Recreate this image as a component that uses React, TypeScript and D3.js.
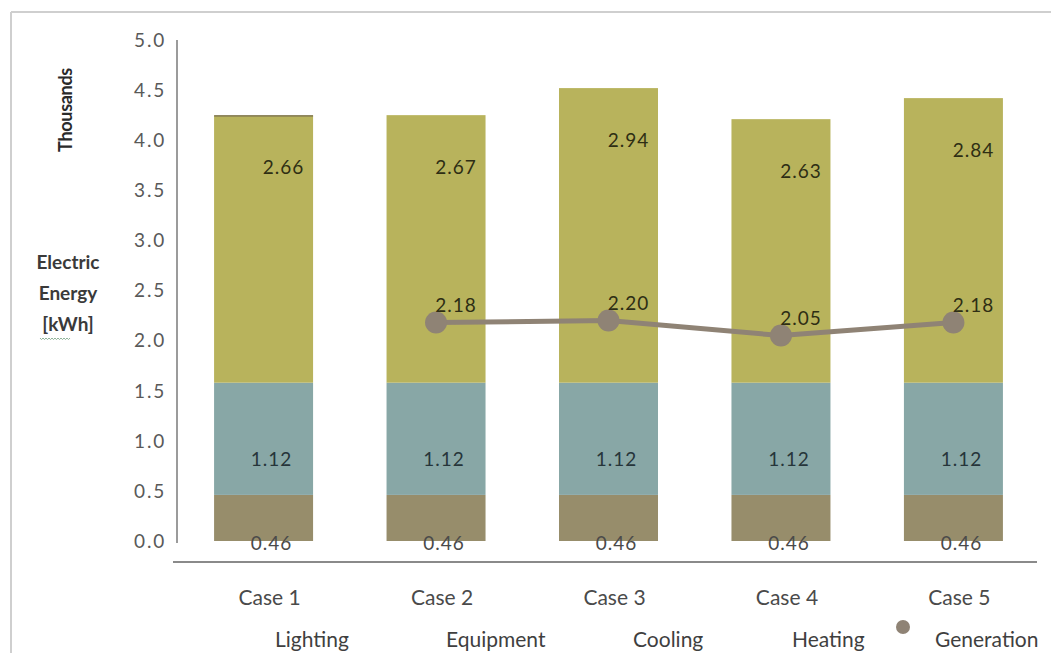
import React from "react";
import * as d3 from "d3";

const cases = ["Case 1", "Case 2", "Case 3", "Case 4", "Case 5"];
const lighting = [0.46, 0.46, 0.46, 0.46, 0.46];
const equipment = [1.12, 1.12, 1.12, 1.12, 1.12];
const cooling = [2.66, 2.67, 2.94, 2.63, 2.84];
const heating = [0.01, 0.0, 0.0, 0.0, 0.0];
const generation: (number | null)[] = [null, 2.18, 2.2, 2.05, 2.18];
const yTicks = [0, 0.5, 1, 1.5, 2, 2.5, 3, 3.5, 4, 4.5, 5];
const legendNames = ["Lighting", "Equipment", "Cooling", "Heating", "Generation"];

const C_LIGHT = "#978d6b";
const C_EQUIP = "#88a7a6";
const C_COOL = "#b8b35c";
const C_HEAT = "#7d7346";
const C_GEN = "#8f8375";
const FONT = "Lato, 'Open Sans', sans-serif";

export default function App() {
  const W = 1051, H = 653;
  const y = d3.scaleLinear().domain([0, 5]).range([541, 40]);
  const x = d3.scaleBand<string>().domain(cases).range([177, 1040]).paddingInner(0.426).paddingOuter(0.215);
  const bw = x.bandwidth();

  const rows = cases.map((c, i) => ({ c, lighting: lighting[i], equipment: equipment[i], cooling: cooling[i], heating: heating[i] }));
  const keys = ["lighting", "equipment", "cooling", "heating"];
  const colors: Record<string, string> = { lighting: C_LIGHT, equipment: C_EQUIP, cooling: C_COOL, heating: C_HEAT };
  const stack = d3.stack<any>().keys(keys)(rows);

  const genPts = cases
    .map((c, i) => ({ c, v: generation[i] }))
    .filter((d) => d.v !== null) as { c: string; v: number }[];
  const line = d3
    .line<{ c: string; v: number }>()
    .x((d) => (x(d.c) as number) + bw / 2)
    .y((d) => y(d.v));

  const cx = (c: string) => (x(c) as number) + bw / 2;
  const fmt = d3.format(".2f");

  // squiggle under kWh
  const sq: string[] = [];
  for (let i = 0; i <= 20; i++) {
    const px = 40 + i * 1.5;
    const py = 338 + (i % 2 === 0 ? 0 : 1.6);
    sq.push(`${i === 0 ? "M" : "L"}${px},${py}`);
  }

  const legendX = [275, 446, 633, 792, 935];

  return (
    <svg width={W} height={H} style={{ position: "absolute", left: 0, top: 0, background: "#fff" }} fontFamily={FONT}>
      {/* frame */}
      <line x1={11} y1={12} x2={W} y2={12} stroke="#cfcfcf" strokeWidth={2} />
      <line x1={11} y1={12} x2={11} y2={H} stroke="#cfcfcf" strokeWidth={2} />

      {/* y axis titles */}
      <text transform="translate(72,110) rotate(-90)" textAnchor="middle" fontSize={18} fontWeight={700} fill="#2a2a2a" letterSpacing={-0.3}>
        Thousands
      </text>
      <g fontSize={19} fontWeight={700} fill="#3a3a3a" textAnchor="middle">
        <text x={68} y={269}>Electric</text>
        <text x={68} y={300}>Energy</text>
        <text x={68} y={331}>[kWh]</text>
      </g>
      <path d={sq.join(" ")} fill="none" stroke="#8fb39a" strokeWidth={1} />

      {/* y ticks */}
      <g fontSize={19} fill="#595959" textAnchor="end" letterSpacing={1.8}>
        {yTicks.map((t) => (
          <text key={t} x={166} y={y(t)} dy="0.36em">
            {t.toFixed(1)}
          </text>
        ))}
      </g>

      {/* bars */}
      {stack.map((s) => (
        <g key={s.key} fill={colors[s.key]}>
          {s.map((d, i) =>
            d[1] - d[0] > 0 ? (
              <rect key={i} x={x(cases[i])} y={y(d[1])} width={bw} height={Math.max(y(d[0]) - y(d[1]), 1.5)} />
            ) : null
          )}
        </g>
      ))}

      {/* axes lines */}
      <line x1={177} y1={40} x2={177} y2={543} stroke="#9b9b9b" strokeWidth={2} />
      <line x1={173} y1={562} x2={1037} y2={562} stroke="#8a8a8a" strokeWidth={2} />

      {/* data labels */}
      <g fontSize={19} textAnchor="middle" letterSpacing={1}>
        {cases.map((c, i) => {
          const total = lighting[i] + equipment[i] + cooling[i] + heating[i];
          return (
            <g key={c}>
              <text x={cx(c) + 8} y={y(0) + 2} dy="0.36em" fill="#4a4a4a">{fmt(lighting[i])}</text>
              <text x={cx(c) + 8} y={y(lighting[i]) - 36} dy="0.36em" fill="#26353a">{fmt(equipment[i])}</text>
              <text x={cx(c) + 20} y={y(total) + 52} dy="0.36em" fill="#2e2e14">{fmt(cooling[i])}</text>
            </g>
          );
        })}
      </g>

      {/* generation line */}
      <path d={line(genPts) || ""} fill="none" stroke={C_GEN} strokeWidth={5} />
      {genPts.map((d) => (
        <circle key={d.c} cx={cx(d.c)} cy={y(d.v)} r={11} fill={C_GEN} />
      ))}
      <g fontSize={19} textAnchor="middle" letterSpacing={1} fill="#2e2e14">
        {genPts.map((d) => (
          <text key={d.c} x={cx(d.c) + 20} y={y(d.v) - 17} dy="0.36em">{fmt(d.v)}</text>
        ))}
      </g>

      {/* category labels */}
      <g fontSize={21} fill="#4a4a4a" textAnchor="middle">
        {cases.map((c) => (
          <text key={c} x={cx(c) + 6} y={597} dy="0.36em">{c}</text>
        ))}
      </g>

      {/* legend */}
      <g fontSize={21} fill="#3f3f3f">
        {legendNames.map((n, i) => (
          <text key={n} x={legendX[i]} y={647}>{n}</text>
        ))}
      </g>
      <circle cx={903} cy={627} r={7} fill={C_GEN} />
    </svg>
  );
}
